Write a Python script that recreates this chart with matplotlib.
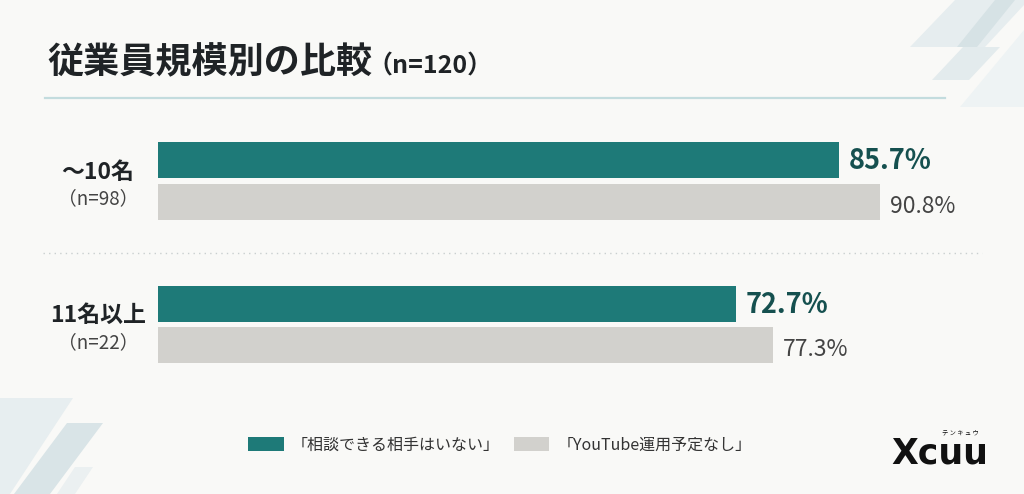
import matplotlib.pyplot as plt
from matplotlib.patches import Polygon, Patch
from matplotlib.lines import Line2D
import matplotlib.transforms as mtransforms

plt.rcParams['font.family'] = ['Noto Sans CJK JP', 'DejaVu Sans']

categories = ["〜10名", "11名以上"]
sample_sizes = ["（n=98）", "（n=22）"]
no_consult = [85.7, 72.7]
no_youtube = [90.8, 77.3]
series_labels = ["「相談できる相手はいない」", "「YouTube運用予定なし」"]
title = "従業員規模別の比較"
title_n = "（n=120）"

W, H = 1024, 494
TEAL = "#1E7A78"
GRAY = "#D2D1CD"
BG = "#F9F9F7"

fig = plt.figure(figsize=(W / 100, H / 100), dpi=100, facecolor=BG)


def px(points):
    # pixel coords (y from top) -> figure fraction
    return [(x / W, 1 - y / H) for x, y in points]


# background decoration
deco = [
    ([(910, 47), (955, 0), (1024, 0), (1024, 5), (985, 47)], "#E6EDEF"),
    ([(957, 47), (995, 0), (1015, 0), (977, 47)], "#D6E2E5"),
    ([(932, 80), (963, 47), (1000, 47), (969, 80)], "#E3EBED"),
    ([(960, 107), (1024, 30), (1024, 107)], "#EEF3F4"),
    ([(0, 398), (73, 398), (10, 494), (0, 494)], "#E7EEF0"),
    ([(67, 423), (103, 423), (50, 494), (14, 494)], "#D9E4E7"),
    ([(75, 467), (93, 467), (75, 494), (57, 494)], "#EBF0F1"),
]
for pts, c in deco:
    fig.patches.append(Polygon(px(pts), closed=True, transform=fig.transFigure,
                               facecolor=c, edgecolor="none", zorder=0))

# title
fig.text(47 / W, 1 - 63 / H, title, fontsize=26, fontweight="bold",
         color="#1F2326", va="center", ha="left")
fig.text(367 / W, 1 - 66 / H, title_n, fontsize=18, fontweight="bold",
         color="#1F2326", va="center", ha="left")
fig.add_artist(Line2D([45 / W, 945 / W], [1 - 98 / H, 1 - 98 / H],
                      transform=fig.transFigure, color="#C3DCDE", lw=1.6))

# bars axes: 1% = 7.95 px, bars start at x=158
ax_left, ax_top, ax_bot = 158, 110, 400
ax = fig.add_axes([ax_left / W, 1 - ax_bot / H, (W - ax_left) / W, (ax_bot - ax_top) / H])
ax.set_facecolor("none")
unit = 143.5
ax.set_xlim(0, (W - ax_left) / 7.95)
ax.set_ylim((ax_bot - 181) / unit, (ax_top - 181) / unit)
ax.axis("off")

bar_h = 36 / unit
off = 21 / unit
ypos = list(range(len(categories)))
ax.barh([y - off for y in ypos], no_consult, height=bar_h, color=TEAL)
ax.barh([y + off for y in ypos], no_youtube, height=bar_h, color=GRAY)

for y, v in zip(ypos, no_consult):
    ax.text(v + 1.2, y - off + 0.01, f"{v}%", fontsize=19.5, fontweight="bold",
            color="#15504F", va="center", ha="left")
for y, v in zip(ypos, no_youtube):
    ax.text(v + 1.3, y + off + 0.03, f"{v}%", fontsize=16.5,
            color="#444444", va="center", ha="left")

blend = mtransforms.blended_transform_factory(fig.transFigure, ax.transData)
for y, cat, n in zip(ypos, categories, sample_sizes):
    ax.text(98 / W, y - 0.06, cat, transform=blend, fontsize=16.5, fontweight="bold",
            color="#1F2326", ha="center", va="center")
    ax.text(98 / W, y + 0.125, n, fontsize=13.5, transform=blend,
            color="#444444", ha="center", va="center")

# dotted separator between groups
for a, b in zip(ypos[:-1], ypos[1:]):
    ax.plot([43 / W, 982 / W], [(a + b) / 2] * 2, transform=blend, color="#C9CFCF",
            lw=1.0, ls=(0, (1, 3)), clip_on=False)

# legend
handles = [Patch(facecolor=TEAL, edgecolor="none"), Patch(facecolor=GRAY, edgecolor="none")]
fig.legend(handles, series_labels, loc="center left", bbox_to_anchor=(248 / W, 1 - 445 / H),
           ncol=2, frameon=False, fontsize=11.5, handlelength=2.25, handleheight=0.95,
           handletextpad=0.5, columnspacing=0.85, borderpad=0, borderaxespad=0,
           labelcolor="#333333")

# logo
fig.text(891 / W, 1 - 463 / H, "Xcuu", fontsize=25, fontweight="bold",
         family="DejaVu Sans", color="#111111", ha="left", va="baseline")
fig.text(960 / W, 1 - 432 / H, "テ ン キ ュ ウ", fontsize=4.5, color="#111111",
         ha="center", va="center")

fig.savefig("out.png", dpi=100, facecolor=BG)
